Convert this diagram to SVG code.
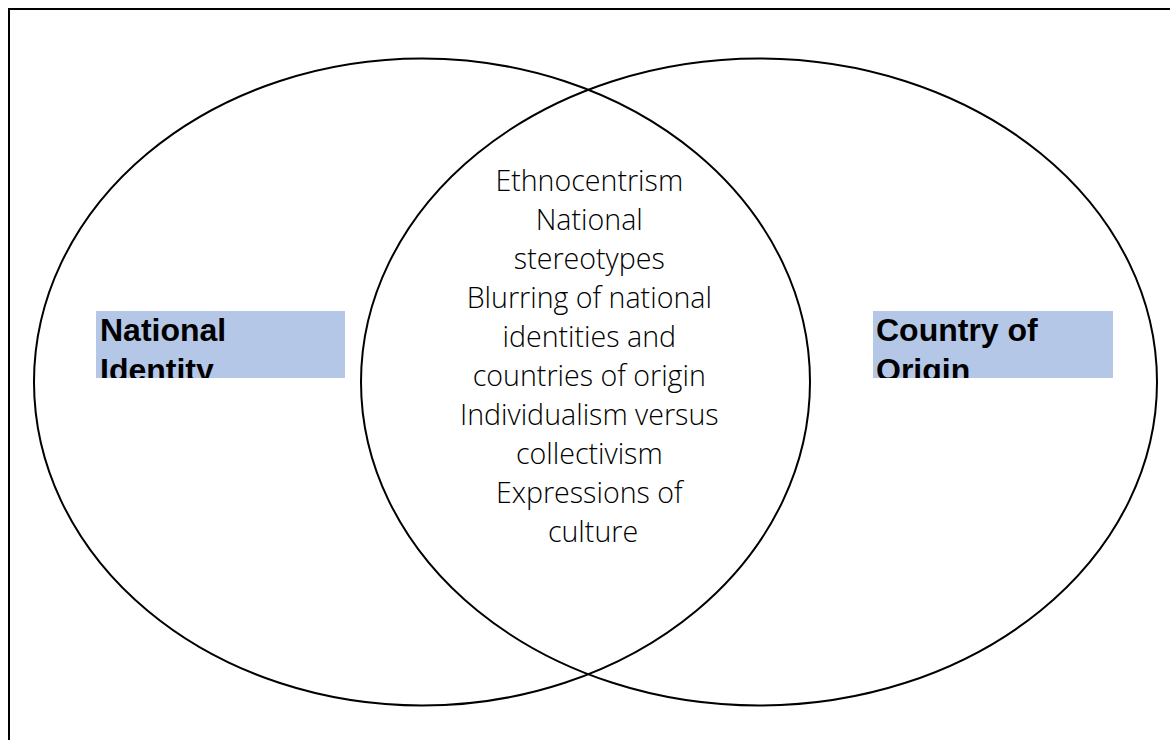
<svg xmlns="http://www.w3.org/2000/svg" width="1170" height="740" viewBox="0 0 1170 740">
<style>
.circle{fill:none;stroke:#000;stroke-width:2}
.lbl{font-family:"Liberation Sans",Arial,sans-serif;font-weight:bold;font-size:32px;fill:#000}
.box{fill:#B4C7E7}
.mid{font-family:"Open Sans",Lato,sans-serif;font-weight:300;font-size:28.6px;fill:#000;text-anchor:middle}
</style>
<defs>
<clipPath id="c1"><rect x="96" y="311" width="249" height="67"/></clipPath>
<clipPath id="c2"><rect x="873" y="311" width="240" height="67"/></clipPath>
</defs>
<rect x="9" y="9" width="1170" height="740" fill="none" stroke="#000" stroke-width="2"/>
<g id="national-identity">
<ellipse class="circle" cx="422" cy="382" rx="388" ry="323.5"/>
<rect class="box" x="96" y="311" width="249" height="67"/>
<text class="lbl" clip-path="url(#c1)"><tspan x="100" y="341">National</tspan><tspan x="100" y="381">Identity</tspan></text>
</g>
<g id="country-of-origin">
<ellipse class="circle" cx="759" cy="382" rx="398" ry="323.5"/>
<rect class="box" x="873" y="311" width="240" height="67"/>
<text class="lbl" clip-path="url(#c2)"><tspan x="876" y="341">Country of</tspan><tspan x="876" y="381">Origin</tspan></text>
</g>
<g id="overlap">
<text class="mid">
<tspan x="593" y="191">Ethnocentrism</tspan>
<tspan x="593" y="230">National</tspan>
<tspan x="593" y="269">stereotypes</tspan>
<tspan x="593" y="308">Blurring of national</tspan>
<tspan x="593" y="347">identities and</tspan>
<tspan x="593" y="386">countries of origin</tspan>
<tspan x="593" y="425">Individualism versus</tspan>
<tspan x="593" y="464">collectivism</tspan>
<tspan x="593" y="503">Expressions of</tspan>
<tspan x="593" y="542">culture</tspan>
</text>
</g>
<g id="connectors"/>
</svg>
